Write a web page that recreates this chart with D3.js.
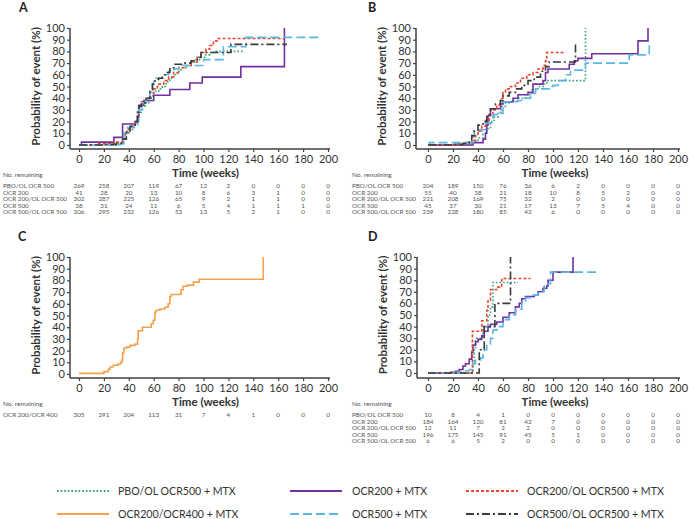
<!DOCTYPE html>
<html><head><meta charset="utf-8">
<script src="https://cdn.jsdelivr.net/npm/d3@7"></script>
<style>body{margin:0;background:#fff}svg{display:block}text{font-family:Lato,"Open Sans",sans-serif}</style>
</head><body>
<script>
// ---------- data ----------
const xTicks = [0,20,40,60,80,100,120,140,160,180,200];
const yTicks = [0,10,20,30,40,50,60,70,80,90,100];
const riskLabels5 = ["PBO/OL OCR 500","OCR 200","OCR 200/OL OCR 500","OCR 500","OCR 500/OL OCR 500"];
const riskLabelsC = ["OCR 200/OCR 400"];

// Panel A: [week, cumulative probability %]
const aPBO = [[0,0],[30,1],[34,3],[36,6],[38,10],[40,13],[43,16],[45,18],[47,24],[48,28],[50,33],[53,36],[56,40],[58,42],[60,46],[64,48],[67,50],[70,54],[73,57],[76,60],[79,63],[82,66],[86,68],[90,71],[94,73],[98,75],[101,77],[105,79],[110,80],[133,80]];
const aOCR200 = [[0,0],[2,2.5],[28,6.5],[35,18],[45,20],[47,24],[48,34],[52,38],[60,42.5],[73,47.5],[89,53],[99,58],[130,67],[165,100]];
const aOCR200OL = [[0,0],[15,1],[28,2.5],[35,5],[37,10],[39,14],[42,16],[45,20],[47,28],[48,33],[50,37],[54,40],[57,44],[60,48],[63,52],[68,55],[72,58],[76,62],[80,66],[85,68],[90,71],[95,75],[98,79],[102,82],[105,85],[108,89],[111,91],[165,91]];
const aOCR500 = [[0,0],[33,1],[36,10],[39,15],[45,15],[47,20],[48,30],[51,36],[54,40],[57,45],[59,52],[60,57],[64,57],[67,60],[72,63],[76,65],[80,68],[95,68],[100,73],[115,73],[116,84],[134,92],[195,92]];
const aOCR500OL = [[0,0],[20,0.5],[30,1.5],[35,5],[38,12],[41,16],[45,20],[47,28],[48,33],[50,36],[54,40],[57,46],[59,52],[61,56],[64,57],[67,60],[70,62],[73,66],[77,69],[85,70],[90,72],[95,75],[98,79],[122,86],[167,86]];
const aRisk = [
  [269,258,207,119,67,12,2,0,0,0,0],
  [41,28,20,13,10,8,6,3,1,0,0],
  [302,287,225,126,65,9,2,1,1,0,0],
  [38,31,24,11,6,5,4,1,1,1,0],
  [306,295,232,126,53,13,5,2,1,0,0]
];

// Panel B
const bPBO = [[0,0],[30,0.5],[36,3],[40,6],[44,10],[47,14],[50,20],[53,24],[56,28],[59,33],[62,36],[67,38],[72,40],[78,43],[83,47],[88,50],[93,53],[96,55],[126,100]];
const bOCR200 = [[0,0],[36,2],[44,5],[46,10],[47,17],[48,25],[50,31],[58,35],[60,37],[68,40],[72,43],[80,45],[84,52],[92,55],[94,62],[96,65],[113,69],[117,72],[120,74],[131,78],[168,89],[176,100]];
const bOCR200OL = [[0,0],[22,1],[30,2],[35,4],[38,8],[40,12],[43,16],[46,21],[49,26],[52,30],[55,34],[58,40],[60,45],[62,48],[66,50],[70,53],[74,57],[79,60],[84,62],[88,65],[92,68],[94,72],[95,79],[110,79]];
const bOCR500 = [[0,0],[1,2],[33,2],[36,7],[37,13],[43,13],[46,19],[52,26],[58,27],[60,37],[72,38],[75,40],[82,44],[86,48],[97,50],[100,51],[104,55],[110,60],[114,64],[126,70],[161,77],[177,89]];
const bOCR500OL = [[0,0],[20,0.5],[28,1.5],[33,4],[35,8],[37,12],[40,17],[44,20],[47,26],[50,31],[54,35],[58,38],[60,42],[65,45],[70,48],[75,51],[80,55],[85,58],[90,63],[94,67],[97,71],[118,86],[120,86]];
const bRisk = [
  [204,189,150,76,36,6,2,0,0,0,0],
  [55,40,38,21,18,10,8,5,2,0,0],
  [221,208,169,75,32,2,0,0,0,0,0],
  [45,37,30,21,17,13,7,5,4,0,0],
  [239,228,180,85,42,6,0,0,0,0,0]
];

// Panel C
const cOCR200_400 = [[0,0.5],[20,2],[23.5,4],[25,6],[27.5,7.5],[31.5,8.5],[33.5,10],[34.5,12],[35,18],[36,22],[38,23],[41,24.5],[45,25.5],[47,30],[47.5,37],[51,40],[58,43],[59.6,46],[61,53],[62,54.5],[65,55.5],[69,57],[71.6,60],[73,66],[74,68],[82,72],[83.6,75],[87,76],[92,78.5],[96.5,81],[148,100]];
const cRisk = [[305,291,204,113,31,7,4,1,0,0,0]];

// Panel D
const dPBO = [[0,0],[36,10],[37,20],[38,30],[44,40],[48,50],[50,57],[52,78],[72,78]];
const dOCR200 = [[0,0],[18,0.5],[22,1.5],[25,3],[28,6],[30,8],[33,12],[35,18],[36,24],[38,27],[40,29],[43,32],[45,36],[48,40],[50,42],[55,44],[60,48],[65,52],[70,57],[73,60],[75,64],[78,66],[85,67],[88,70],[92,73],[95,75],[96,80],[100,87],[116,100]];
const dOCR200OL = [[0,0],[35.5,36],[40,36],[43,45],[47,54],[48,63],[50,72],[55,74],[59,81.5],[82,81.5]];
const dOCR500 = [[0,0],[20,0.5],[25,1],[30,2],[33,3],[36,8],[38,11],[42,13],[44,17],[45,20],[47,25],[50,30],[52,37],[55,40],[60,46],[65,50],[70,55],[75,62],[78,65],[82,67],[88,70],[93,77],[98,87],[135,87]];
const dOCR500OL = [[0,0],[41,20],[45,40],[53.5,60],[66,100]];
const dRisk = [
  [10,8,4,1,0,0,0,0,0,0,0],
  [184,164,120,81,42,7,0,0,0,0,0],
  [12,11,7,2,2,0,0,0,0,0,0],
  [196,175,145,91,45,5,1,0,0,0,0],
  [6,6,5,2,0,0,0,0,0,0,0]
];

const legendNames = ["PBO/OL OCR500 + MTX","OCR200 + MTX","OCR200/OL OCR500 + MTX","OCR200/OCR400 + MTX","OCR500 + MTX","OCR500/OL OCR500 + MTX"];

// ---------- styles ----------
const STY = {
  pbo:   {color:"#2ea879", dash:"1.6,2"},
  o200:  {color:"#7030a0", dash:null},
  o200ol:{color:"#f0442a", dash:"3,2"},
  o400:  {color:"#f5a04a", dash:null},
  o500:  {color:"#5bb6e6", dash:"9,4"},
  o500ol:{color:"#3a3a3a", dash:"8,3,2,3"}
};
const legendKeys = ["pbo","o200","o200ol","o400","o500","o500ol"];

const svg = d3.select("body").append("svg").attr("width",689).attr("height",519);
svg.append("rect").attr("width",689).attr("height",519).attr("fill","#fff");

const AX = "#404040";

function panel(cfg){
  const g = svg.append("g");
  const x = d3.scaleLinear().domain([0,200]).range([cfg.x0, cfg.x1]);
  const y = d3.scaleLinear().domain([0,100]).range([cfg.y0, cfg.y1]);
  g.append("text").attr("x",cfg.lx).attr("y",cfg.ly).attr("font-size",12.5).attr("font-weight","bold").attr("fill","#222").text(cfg.letter);
  const yAx = d3.axisLeft(y).tickValues(yTicks).tickSize(3).tickPadding(2);
  const gy = g.append("g").attr("transform",`translate(${cfg.ax},0)`).call(yAx);
  gy.select(".domain").attr("d",`M0,${cfg.y1}V${cfg.xb}`).attr("stroke",AX).attr("stroke-width",1.5);
  gy.selectAll(".tick line").attr("stroke",AX).attr("stroke-width",1.2);
  gy.selectAll(".tick text").attr("font-size",11).attr("fill","#333").attr("font-family","Lato,sans-serif");
  const xAx = d3.axisBottom(x).tickValues(xTicks).tickSize(3).tickPadding(3);
  const gx = g.append("g").attr("transform",`translate(0,${cfg.xb})`).call(xAx);
  gx.select(".domain").attr("d",`M${cfg.ax},0H${cfg.x1+2}`).attr("stroke",AX).attr("stroke-width",1.5);
  gx.selectAll(".tick line").attr("stroke",AX).attr("stroke-width",1.2);
  gx.selectAll(".tick text").attr("font-size",11).attr("fill","#333").attr("font-family","Lato,sans-serif");
  g.append("text").attr("transform",`translate(${cfg.ax-30},${(cfg.y0+cfg.y1)/2}) rotate(-90)`)
    .attr("text-anchor","middle").attr("font-size",11.5).attr("font-weight","bold").attr("fill","#333").text("Probability of event (%)");
  g.append("text").attr("x",(cfg.x0+cfg.x1)/2+2).attr("y",cfg.xb+28).attr("text-anchor","middle")
    .attr("font-size",11.5).attr("font-weight","bold").attr("fill","#333").text("Time (weeks)");
  const line = d3.line().x(d=>x(d[0])).y(d=>y(d[1])).curve(d3.curveStepAfter);
  cfg.series.forEach(s=>{
    const st = STY[s.key];
    g.append("path").attr("d",line(s.data)).attr("fill","none").attr("stroke",st.color)
      .attr("stroke-width",1.6).attr("stroke-dasharray",st.dash).attr("stroke-linejoin","miter");
  });
  g.append("text").attr("x",cfg.tx).attr("y",cfg.xb+28).attr("font-size",6.5).attr("fill","#555").text("No. remaining");
  cfg.risk.forEach((row,i)=>{
    const yy = cfg.ry + i*6.6;
    g.append("text").attr("x",cfg.tx).attr("y",yy).attr("font-size",6.3).attr("fill","#555").text(cfg.labels[i]);
    row.forEach((v,j)=>{
      g.append("text").attr("x",x(xTicks[j])).attr("y",yy).attr("text-anchor","middle").attr("font-size",6.3).attr("fill","#555").text(v);
    });
  });
}

panel({letter:"A",lx:19,ly:12,ax:70,x0:79,x1:328,y0:145,y1:28,xb:149,tx:3,ry:188,labels:riskLabels5,risk:aRisk,
  series:[{key:"pbo",data:aPBO},{key:"o200",data:aOCR200},{key:"o200ol",data:aOCR200OL},{key:"o500",data:aOCR500},{key:"o500ol",data:aOCR500OL}]});
panel({letter:"B",lx:368,ly:12,ax:416,x0:428,x1:678,y0:145,y1:28,xb:149,tx:352,ry:188,labels:riskLabels5,risk:bRisk,
  series:[{key:"pbo",data:bPBO},{key:"o200",data:bOCR200},{key:"o200ol",data:bOCR200OL},{key:"o500",data:bOCR500},{key:"o500ol",data:bOCR500OL}]});
panel({letter:"C",lx:18,ly:241,ax:70,x0:79,x1:328,y0:374,y1:257,xb:378,tx:3,ry:417,labels:riskLabelsC,risk:cRisk,
  series:[{key:"o400",data:cOCR200_400}]});
panel({letter:"D",lx:368,ly:241,ax:417,x0:428,x1:678,y0:373,y1:257,xb:378,tx:352,ry:417,labels:riskLabels5,risk:dRisk,
  series:[{key:"pbo",data:dPBO},{key:"o200",data:dOCR200},{key:"o200ol",data:dOCR200OL},{key:"o500",data:dOCR500},{key:"o500ol",data:dOCR500OL}]});

// legend
const legCols = [[57,118],[290,352],[466,527]];
const legRows = [491,514];
legendKeys.forEach((k,i)=>{
  const c = legCols[i%3], r = legRows[Math.floor(i/3)];
  const st = STY[k];
  svg.append("line").attr("x1",c[0]).attr("x2",c[0]+52).attr("y1",r).attr("y2",r)
    .attr("stroke",st.color).attr("stroke-width",1.8).attr("stroke-dasharray",st.dash);
  svg.append("text").attr("x",c[1]).attr("y",r+4).attr("font-size",10.6).attr("fill","#333").text(legendNames[i]);
});
</script>
</body></html>
